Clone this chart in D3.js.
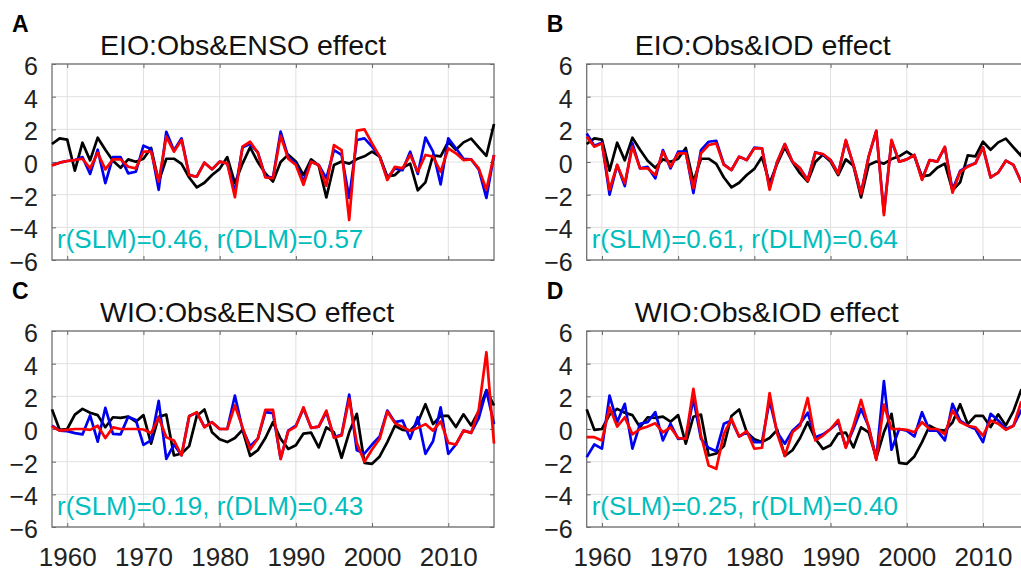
<!DOCTYPE html>
<html><head><meta charset="utf-8">
<script src="https://cdn.jsdelivr.net/npm/d3@7"></script>
<style>body{margin:0;background:#fff}svg{display:block}</style>
</head><body>
<svg id="c" width="1021" height="572"></svg>
<script>
// ---------- data ----------
const years = d3.range(1958, 2017); // 1958..2016
const xTicks = [1960, 1970, 1980, 1990, 2000, 2010];
const yTicks = [-6, -4, -2, 0, 2, 4, 6];

// Observed EIO index (black), shared by panels A and B
const eioObs = [1.1,1.45,1.37,-0.53,1.18,0.1,1.49,0.75,0.08,-0.35,
  0.16,0.02,0.2,0.86,-1.2,0.2,0.2,-0.12,-0.95,-1.55,
  -1.27,-0.8,-0.42,0.3,-1.3,-0.1,0.9,0.0,-0.7,-1.2,
  0.0,0.45,0.03,-0.8,0.16,-0.22,-2.17,-0.18,0.03,-0.1,
  0.18,0.35,0.63,0.33,-0.88,-0.8,-0.35,-0.1,-1.73,-1.25,
  0.4,0.35,1.24,0.75,1.2,1.43,0.9,0.38,2.33];
// Observed WIO index (black), shared by panels C and D
const wioObs = [1.2,-0.05,0.0,0.88,1.23,1.0,0.85,0.11,0.72,0.68,
  0.76,0.45,0.85,-0.9,0.75,0.88,-1.62,-1.5,-1.05,0.8,
  1.2,-0.2,-0.63,-0.8,-0.55,-0.05,-1.65,-1.3,-0.55,0.42,
  -0.6,-1.22,-1.0,-0.28,-0.22,-1.13,0.1,-0.2,-1.76,-0.2,
  0.93,-2.07,-2.13,-1.68,-0.8,0.2,-0.05,-0.1,0.4,1.52,
  0.3,0.8,0.8,0.12,0.9,0.22,1.1,2.38,1.44];

// A: EIO ENSO effect
const eioEnsoSLM = [-0.2,-0.04,0.06,0.12,0.3,-0.73,0.75,-1.3,0.3,0.3,
  -0.7,-0.6,1.0,0.8,-1.7,1.85,0.7,1.45,-0.8,-0.9,
  -0.04,-0.45,0.02,-0.08,-1.85,0.9,1.1,0.6,-0.9,-0.95,
  1.86,0.3,-0.1,-1.2,0.02,-0.18,-1.0,0.73,0.43,-2.2,
  1.35,1.45,0.94,0.33,-1.0,-0.39,-0.5,0.63,-0.73,1.5,
  0.63,-1.37,1.45,0.84,0.2,0.16,-0.45,-2.2,0.43];
const eioEnsoDLM = [-0.22,-0.04,0.06,0.12,0.2,-0.39,0.57,-0.45,0.16,0.16,
  -0.29,-0.39,0.63,0.63,-1.2,1.55,0.63,1.35,-0.8,-0.9,
  -0.04,-0.45,0.02,-0.08,-2.16,0.94,1.24,0.57,-0.94,-1.0,
  1.6,0.2,-0.18,-1.4,0.02,-0.18,-1.45,1.04,0.73,-3.55,
  1.92,2.0,1.14,0.33,-1.1,-0.29,-0.39,0.43,-0.6,0.43,
  0.33,-0.6,0.84,0.53,0.12,0.16,-0.39,-1.7,0.43];

// B: EIO IOD effect
const eioIodSLM = [1.75,1.0,1.18,-2.0,-0.18,-1.47,1.14,-0.39,-0.3,-1.0,
  0.73,-0.39,0.63,0.63,-1.9,0.73,1.24,1.3,-0.15,-0.49,
  0.33,0.12,0.88,0.84,-1.6,0.02,1.1,0.02,-0.39,-1.1,
  0.6,0.45,0.12,-0.7,1.3,-0.18,-1.9,0.33,1.9,-3.1,
  1.3,0.02,0.16,0.43,-1.05,0.12,0.02,0.9,-1.7,-0.55,
  -0.25,-0.08,0.9,-0.94,-0.65,0.08,-0.18,-1.2,-1.4];
const eioIodDLM = [1.55,0.94,1.14,-1.7,-0.18,-1.3,0.94,-0.39,-0.39,-0.8,
  0.63,-0.29,0.53,0.53,-1.6,0.53,1.04,1.14,-0.18,-0.49,
  0.33,0.12,0.84,0.84,-1.7,0.02,1.1,0.02,-0.39,-1.15,
  0.57,0.49,0.12,-0.73,1.35,-0.18,-1.96,0.33,1.92,-3.25,
  1.35,0.02,0.16,0.43,-1.1,0.12,0.02,0.94,-1.88,-0.6,
  -0.29,-0.08,0.9,-0.94,-0.65,0.08,-0.18,-1.2,-1.4];

// C: WIO ENSO effect
const wioEnsoSLM = [0.2,-0.1,-0.13,-0.25,-0.33,0.83,-0.78,1.3,-0.3,-0.33,
  0.75,0.55,-0.97,-0.7,1.72,-1.83,-0.95,-1.6,0.8,1.0,
  0.15,0.42,0.0,0.0,2.05,0.0,-1.05,-0.6,1.03,0.97,
  -1.83,-0.1,0.2,1.25,0.07,0.15,1.03,-0.5,-0.36,2.1,
  -1.3,-1.5,-0.95,-0.45,1.13,0.42,0.52,-0.6,0.72,-1.52,
  -0.75,1.33,-1.52,-0.95,-0.1,-0.22,0.67,2.35,0.3];
const wioEnsoDLM = [0.15,-0.1,-0.05,0.0,0.0,-0.05,0.2,-0.55,0.1,0.0,
  0.0,0.0,-0.03,-0.25,0.7,-0.5,-0.7,-1.62,0.77,1.03,
  0.1,0.42,0.0,0.0,1.44,0.1,-1.25,-0.6,1.17,1.17,
  -1.83,-0.13,0.15,1.33,0.07,0.15,1.13,-0.54,-0.4,1.85,
  -0.85,-2.0,-1.25,-0.6,1.07,0.36,0.13,-0.12,0.07,0.3,
  -0.1,0.47,-0.85,-0.95,-0.1,-0.25,1.18,4.7,-0.9];

// D: WIO IOD effect
const wioIodSLM = [-1.72,-0.95,-1.2,2.05,0.42,1.54,-1.2,0.32,0.42,1.03,
  -0.7,0.32,-0.6,-0.55,1.85,-0.6,-1.15,-1.36,0.32,0.52,
  -0.46,-0.2,-0.8,-0.8,1.74,-0.2,-0.9,-0.1,0.32,1.0,
  -0.5,-0.33,0.0,0.42,-1.1,0.0,1.23,0.15,-1.83,2.93,
  -1.27,0.0,-0.1,-0.46,1.03,-0.1,-0.1,-0.7,1.54,0.52,
  0.2,0.0,-0.8,0.93,0.52,0.0,0.2,1.13,1.3];
const wioIodDLM = [-0.5,-0.5,-0.7,1.33,0.15,0.72,-0.33,0.0,0.15,0.35,
  -0.2,0.1,-0.55,-0.6,2.46,-0.4,-2.23,-2.44,-0.3,0.62,
  -0.46,-0.13,-1.21,-1.15,2.2,-0.3,-1.65,-0.2,0.2,1.9,
  -0.7,-0.4,0.0,0.56,-1.15,0.2,1.78,0.11,-1.89,1.5,
  0.0,0.0,-0.05,-0.2,0.42,0.0,0.0,-0.33,1.13,0.42,
  0.2,0.11,-0.4,0.52,0.32,-0.05,0.2,1.64,1.8];

const panelLetters = ['A','B','C','D'];
const panelTitles = ['EIO:Obs&ENSO effect','EIO:Obs&IOD effect','WIO:Obs&ENSO effect','WIO:Obs&IOD effect'];
const panelStats = ['r(SLM)=0.46, r(DLM)=0.57','r(SLM)=0.61, r(DLM)=0.64','r(SLM)=0.19, r(DLM)=0.43','r(SLM)=0.25, r(DLM)=0.40'];
const panelObs = [eioObs, eioObs, wioObs, wioObs];
const panelSLM = [eioEnsoSLM, eioIodSLM, wioEnsoSLM, wioIodSLM];
const panelDLM = [eioEnsoDLM, eioIodDLM, wioEnsoDLM, wioIodDLM];

// ---------- drawing ----------
const FONT = '"Liberation Sans", Arial, Helvetica, sans-serif';
const svg = d3.select('#c');
const W = 442, H = 196;
const lefts = [52, 586.7], tops = [64, 331];

panelLetters.forEach((letter, i) => {
  const col = i % 2, row = Math.floor(i / 2);
  const x0 = lefts[col], y0 = tops[row];
  const x = d3.scaleLinear().domain([1958, 2016]).range([0, W]);
  const y = d3.scaleLinear().domain([-6, 6]).range([H, 0]);

  // panel letter
  svg.append('text').attr('x', x0 - 40).attr('y', y0 - 32)
    .attr('font-family', FONT).attr('font-weight', 'bold').attr('font-size', 23)
    .attr('fill', '#000').text(letter);

  const g = svg.append('g').attr('transform', `translate(${x0},${y0})`);

  // grid
  g.append('g').selectAll('line').data(xTicks).join('line')
    .attr('x1', d => x(d)).attr('x2', d => x(d)).attr('y1', 0).attr('y2', H)
    .attr('stroke', '#e0e0e0').attr('stroke-width', 1);
  g.append('g').selectAll('line').data(yTicks).join('line')
    .attr('x1', 0).attr('x2', W).attr('y1', d => y(d)).attr('y2', d => y(d))
    .attr('stroke', '#e0e0e0').attr('stroke-width', 1);

  // axes (ticks inside)
  const ya = g.append('g').call(d3.axisLeft(y).tickValues(yTicks).tickSize(-4).tickPadding(14).tickFormat(d3.format('d')));
  ya.select('.domain').remove();
  ya.selectAll('line').attr('stroke', '#666');
  ya.selectAll('text').attr('font-family', FONT).attr('font-size', 25).attr('fill', '#222').attr('dy', '0.42em');

  const yr = g.append('g').attr('transform', `translate(${W},0)`).call(d3.axisRight(y).tickValues(yTicks).tickSize(-4).tickFormat(''));
  yr.select('.domain').remove();
  yr.selectAll('line').attr('stroke', '#666');

  const xt = g.append('g').call(d3.axisTop(x).tickValues(xTicks).tickSize(-4).tickFormat(''));
  xt.select('.domain').remove();
  xt.selectAll('line').attr('stroke', '#666');

  const xb = g.append('g').attr('transform', `translate(0,${H})`)
    .call(d3.axisBottom(x).tickValues(xTicks).tickSize(-4).tickPadding(row === 1 ? 34 : 0)
      .tickFormat(row === 1 ? d3.format('d') : ''));
  xb.select('.domain').remove();
  xb.selectAll('line').attr('stroke', '#666');
  xb.selectAll('text').attr('font-family', FONT).attr('font-size', 26).attr('fill', '#222').attr('dy', '0.2em');

  // frame
  g.append('rect').attr('x', 0).attr('y', 0).attr('width', W).attr('height', H)
    .attr('fill', 'none').attr('stroke', '#707070').attr('stroke-width', 1.3);

  // lines
  const line = d3.line().x((d, k) => x(years[k])).y(d => y(d));
  [[panelObs[i], '#000000'], [panelSLM[i], '#0000f0'], [panelDLM[i], '#ff0000']].forEach(([vals, color]) => {
    g.append('path').datum(vals).attr('d', line)
      .attr('fill', 'none').attr('stroke', color).attr('stroke-width', 2.7)
      .attr('stroke-linejoin', 'round');
  });

  // title
  g.append('text').attr('x', 48).attr('y', -9)
    .attr('font-family', FONT).attr('font-size', 28.5).attr('fill', '#111')
    .text(panelTitles[i]);

  // correlation text
  g.append('text').attr('x', 5).attr('y', 184)
    .attr('font-family', FONT).attr('font-size', 26).attr('fill', '#00bdbd')
    .text(panelStats[i]);
});
</script>
</body></html>
